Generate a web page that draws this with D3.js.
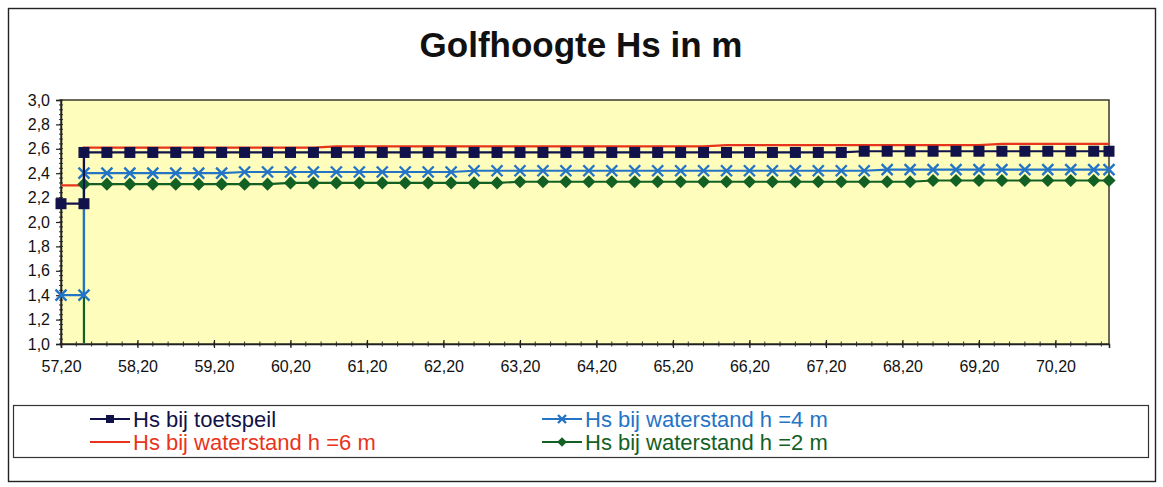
<!DOCTYPE html>
<html>
<head>
<meta charset="utf-8">
<script src="https://cdn.jsdelivr.net/npm/d3@7"></script>
<style>
  html, body { margin: 0; padding: 0; background: #ffffff; }
  svg { display: block; font-family: "Liberation Sans", Arial, sans-serif; }
</style>
</head>
<body>
<svg id="chart" width="1163" height="487"></svg>
<script>
// ---------- DATA ----------
const chartTitle = "Golfhoogte Hs in m";
const xValues = [57.2, 57.5, 57.5, 57.8, 58.1, 58.4, 58.7, 59.0, 59.3, 59.6,
  59.9, 60.2, 60.5, 60.8, 61.1, 61.4, 61.7, 62.0, 62.3, 62.6,
  62.9, 63.2, 63.5, 63.8, 64.1, 64.4, 64.7, 65.0, 65.3, 65.6,
  65.9, 66.2, 66.5, 66.8, 67.1, 67.4, 67.7, 68.0, 68.3, 68.6,
  68.9, 69.2, 69.5, 69.8, 70.1, 70.4, 70.7, 70.9];
const hsToetspeil = [2.15, 2.15, 2.57, 2.57, 2.57, 2.57, 2.57, 2.57, 2.57, 2.57,
  2.57, 2.57, 2.57, 2.57, 2.57, 2.57, 2.57, 2.57, 2.57, 2.57,
  2.57, 2.57, 2.57, 2.57, 2.57, 2.57, 2.57, 2.57, 2.57, 2.57,
  2.57, 2.57, 2.57, 2.57, 2.57, 2.57, 2.58, 2.58, 2.58, 2.58,
  2.58, 2.58, 2.58, 2.58, 2.58, 2.58, 2.58, 2.58];
const hsH6 = [2.30, 2.30, 2.61, 2.61, 2.61, 2.61, 2.61, 2.61, 2.61, 2.61,
  2.61, 2.61, 2.61, 2.62, 2.62, 2.62, 2.62, 2.62, 2.62, 2.62,
  2.62, 2.62, 2.62, 2.62, 2.62, 2.62, 2.62, 2.62, 2.62, 2.62,
  2.63, 2.63, 2.63, 2.63, 2.63, 2.63, 2.63, 2.63, 2.63, 2.63,
  2.63, 2.63, 2.64, 2.64, 2.64, 2.64, 2.64, 2.64];
const hsH4 = [1.40, 1.40, 2.40, 2.40, 2.40, 2.40, 2.40, 2.40, 2.40, 2.41,
  2.41, 2.41, 2.41, 2.41, 2.41, 2.41, 2.41, 2.41, 2.41, 2.42,
  2.42, 2.42, 2.42, 2.42, 2.42, 2.42, 2.42, 2.42, 2.42, 2.42,
  2.42, 2.42, 2.42, 2.42, 2.42, 2.42, 2.42, 2.43, 2.43, 2.43,
  2.43, 2.43, 2.43, 2.43, 2.43, 2.43, 2.43, 2.43];
const hsH2 = [0.00, 0.00, 2.31, 2.31, 2.31, 2.31, 2.31, 2.31, 2.31, 2.31,
  2.31, 2.32, 2.32, 2.32, 2.32, 2.32, 2.32, 2.32, 2.32, 2.32,
  2.32, 2.33, 2.33, 2.33, 2.33, 2.33, 2.33, 2.33, 2.33, 2.33,
  2.33, 2.33, 2.33, 2.33, 2.33, 2.33, 2.33, 2.33, 2.33, 2.34,
  2.34, 2.34, 2.34, 2.34, 2.34, 2.34, 2.34, 2.34];
const seriesNames = ["Hs bij toetspeil", "Hs bij waterstand h =4 m", "Hs bij waterstand h =6 m", "Hs bij waterstand h =2 m"];
const xTickValues = [57.2, 58.2, 59.2, 60.2, 61.2, 62.2, 63.2, 64.2, 65.2, 66.2, 67.2, 68.2, 69.2, 70.2];
const xTickLabels = ["57,20", "58,20", "59,20", "60,20", "61,20", "62,20", "63,20", "64,20", "65,20", "66,20", "67,20", "68,20", "69,20", "70,20"];
const yTickValues = [1.0, 1.2, 1.4, 1.6, 1.8, 2.0, 2.2, 2.4, 2.6, 2.8, 3.0];
const yTickLabels = ["1,0", "1,2", "1,4", "1,6", "1,8", "2,0", "2,2", "2,4", "2,6", "2,8", "3,0"];

// ---------- LAYOUT / STYLE ----------
const svg = d3.select("#chart");
const plot = { left: 61, right: 1109, top: 100, bottom: 344 };
const x = d3.scaleLinear().domain([57.2, 70.9]).range([plot.left, plot.right]);
const y = d3.scaleLinear().domain([1.0, 3.0]).range([plot.bottom, plot.top]);

const colors = {
  toets: "#12124a", h4: "#2474c6", h6: "#e8341c", h2: "#136024"
};

// outer frame
svg.append("rect").attr("x", 8.5).attr("y", 8.5).attr("width", 1147).attr("height", 473)
  .attr("fill", "#ffffff").attr("stroke", "#222").attr("stroke-width", 1.4);

// title
svg.append("text").attr("x", 581).attr("y", 57).attr("text-anchor", "middle")
  .attr("font-size", 35).attr("font-weight", "bold").attr("fill", "#111")
  .text(chartTitle);

// plot area
svg.append("rect").attr("x", plot.left).attr("y", plot.top)
  .attr("width", plot.right - plot.left).attr("height", plot.bottom - plot.top)
  .attr("fill", "#fefdbb").attr("stroke", "#3b3a2c").attr("stroke-width", 1.5);

// clip
svg.append("clipPath").attr("id", "clip").append("rect")
  .attr("x", plot.left - 8).attr("y", plot.top - 8)
  .attr("width", plot.right - plot.left + 16).attr("height", plot.bottom - plot.top + 7);

// y axis minor ticks
const yMinor = d3.range(0, 51).map(i => 1.0 + i * 0.04);
svg.append("g").selectAll("line").data(yMinor).join("line")
  .attr("x1", plot.left - 2).attr("x2", plot.left + 2)
  .attr("y1", d => y(d)).attr("y2", d => y(d))
  .attr("stroke", "#333").attr("stroke-width", 1);

// y axis
const yAxis = d3.axisLeft(y).tickValues(yTickValues).tickSize(5).tickPadding(6)
  .tickFormat((d, i) => yTickLabels[i]);
const gy = svg.append("g").attr("transform", `translate(${plot.left},0)`).call(yAxis);
gy.select(".domain").attr("stroke", "#222").attr("stroke-width", 1.5);
gy.selectAll(".tick line").attr("stroke", "#222").attr("stroke-width", 1.2);
gy.selectAll(".tick text").attr("font-size", 16).attr("fill", "#111")
  .attr("font-family", "Liberation Sans, Arial, sans-serif");

// x axis minor ticks
const xMinor = d3.range(0, 69).map(i => 57.2 + i * 0.2).filter(v => v <= 70.9);
svg.append("g").selectAll("line").data(xMinor).join("line")
  .attr("x1", d => x(d)).attr("x2", d => x(d))
  .attr("y1", plot.bottom - 2.5).attr("y2", plot.bottom + 2.5)
  .attr("stroke", "#333").attr("stroke-width", 1);

// x axis
const xAxis = d3.axisBottom(x).tickValues(xTickValues).tickSize(4).tickPadding(13)
  .tickFormat((d, i) => xTickLabels[i]);
const gx = svg.append("g").attr("transform", `translate(0,${plot.bottom})`).call(xAxis);
gx.select(".domain").attr("stroke", "#222").attr("stroke-width", 1.5);
gx.selectAll(".tick line").attr("y1", -4).attr("stroke", "#222").attr("stroke-width", 1.2);
gx.selectAll(".tick text").attr("font-size", 16).attr("fill", "#111")
  .attr("font-family", "Liberation Sans, Arial, sans-serif");

// ---------- SERIES ----------
const series = [
  { name: seriesNames[2], values: hsH6, color: colors.h6, marker: "none" },
  { name: seriesNames[3], values: hsH2, color: colors.h2, marker: "diamond" },
  { name: seriesNames[1], values: hsH4, color: colors.h4, marker: "x" },
  { name: seriesNames[0], values: hsToetspeil, color: colors.toets, marker: "square" }
];

const line = d3.line().x(d => x(d[0])).y(d => y(d[1]));
const gSeries = svg.append("g").attr("clip-path", "url(#clip)");

function drawMarker(g, type, cx, cy, color, s) {
  if (type === "square") {
    g.append("rect").attr("x", cx - s / 2).attr("y", cy - s / 2).attr("width", s).attr("height", s)
      .attr("fill", color);
  } else if (type === "diamond") {
    const h = s * 0.6;
    g.append("path").attr("d", `M${cx},${cy - h}L${cx + h},${cy}L${cx},${cy + h}L${cx - h},${cy}Z`)
      .attr("fill", color);
  } else if (type === "x") {
    const h = s / 2;
    g.append("path").attr("d", `M${cx - h},${cy - h}L${cx + h},${cy + h}M${cx - h},${cy + h}L${cx + h},${cy - h}`)
      .attr("stroke", color).attr("stroke-width", 2.4).attr("fill", "none");
  }
}

series.forEach(s => {
  const pts = xValues.map((xv, i) => [xv, s.values[i]]);
  gSeries.append("path").datum(pts).attr("d", line)
    .attr("fill", "none").attr("stroke", s.color).attr("stroke-width", 2.2);
  if (s.marker !== "none") {
    const gm = gSeries.append("g");
    pts.forEach(p => drawMarker(gm, s.marker, x(p[0]), y(p[1]), s.color, 11));
  }
});

// ---------- LEGEND ----------
svg.append("rect").attr("x", 13.5).attr("y", 405.5).attr("width", 1135).attr("height", 52)
  .attr("fill", "#ffffff").attr("stroke", "#333").attr("stroke-width", 1.2);

const legendItems = [
  { name: seriesNames[0], color: colors.toets, marker: "square", lx: 90, ly: 419 },
  { name: seriesNames[1], color: colors.h4, marker: "x", lx: 542, ly: 419 },
  { name: seriesNames[2], color: colors.h6, marker: "none", lx: 90, ly: 442 },
  { name: seriesNames[3], color: colors.h2, marker: "diamond", lx: 542, ly: 442 }
];
legendItems.forEach(it => {
  const g = svg.append("g");
  g.append("line").attr("x1", it.lx).attr("x2", it.lx + 40).attr("y1", it.ly).attr("y2", it.ly)
    .attr("stroke", it.color).attr("stroke-width", 2.2);
  drawMarker(g, it.marker, it.lx + 20, it.ly, it.color, 8);
  g.append("text").attr("x", it.lx + 43).attr("y", it.ly + 8)
    .attr("font-size", 22).attr("fill", it.color).text(it.name);
});
</script>
</body>
</html>
